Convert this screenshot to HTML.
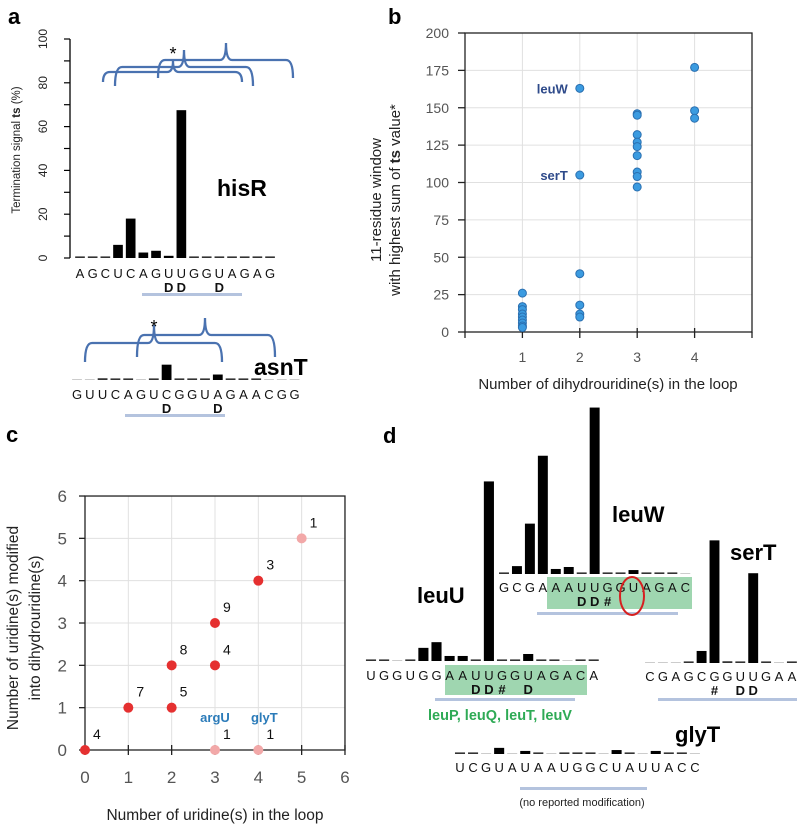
<!DOCTYPE html>
<html><head><meta charset="utf-8"><style>
html,body{margin:0;padding:0;background:#fff;}
svg{display:block;font-family:"Liberation Sans",Arial,sans-serif;}
</style></head><body>
<svg id="fig" width="800" height="825" viewBox="0 0 800 825">
<text x="8" y="24" font-size="22" font-weight="bold">a</text>
<text x="388" y="24" font-size="22" font-weight="bold">b</text>
<text x="6" y="442" font-size="22" font-weight="bold">c</text>
<text x="383" y="443" font-size="22" font-weight="bold">d</text>
</svg>
<script>
// ---------- data ----------
const hisRSeq = "AGCUCAGUUGGUAGAG".split('');
const hisRValues = [0.6,0.2,0.1,6,18,2.5,3.3,1,67.5,0.2,0.1,0.7,0.1,0.1,0.1,0.1];
const hisRMarks = ["","","","","","","","D","D","","","D","","","",""];
const aTicks = [0,20,40,60,80,100];
const asnSeq = "GUUCAGUCGGUAGAACGG".split('');
const asnValues = [0,0,0.8,0.3,0.2,0,0.2,7,0.3,0.3,0.2,2.5,0.3,0.2,0.2,0,0,0];
const asnMarks = ["","","","","","","","D","","","","D","","","","","",""];

const bCats = [1,2,3,4];
const bTicks = [0,25,50,75,100,125,150,175,200];
const bPoints1 = [26,17,15,12,10,8,6,4,3];
const bPoints2 = [163,105,39,18,12,10];
const bPoints3 = [146,145,132,127,124,118,107,104,97];
const bPoints4 = [177,148,143];

const cTicks = [0,1,2,3,4,5,6];
const cX = [0,1,2,2,3,3,4,5,3,4];
const cY = [0,1,2,1,3,2,4,5,0,0];
const cCounts = [4,7,8,5,9,4,3,1,1,1];
const cFaint = [false,false,false,false,false,false,false,true,true,true];

const leuUSeq = "UGGUGGAAUUGGUAGACA".split('');
const leuUValues = [0.5,0.5,0,0.5,6,8.6,2.3,2.3,0.5,82,0.5,0.5,3.2,0.5,0.5,0,0.5,0.5];
const leuUMarks = ["","","","","","","","","D","D","#","","D","","","","",""];
const leuWSeq = "GCGAAAUUGGUAGAC".split('');
const leuWValues = [0.5,3.6,23,54,2.3,3.2,0.5,76,0.5,0.5,1.8,0.3,0.3,0.3,0];
const leuWMarks = ["","","","","","","D","D","#","","","","","",""];
const serTSeq = "CGAGCGGUUGAA".split('');
const serTValues = [0,0,0,0.5,5.5,56,0.8,0.5,41,0.3,0,0.3];
const serTMarks = ["","","","","","#","","D","D","","",""];
const glyTSeq = "UCGUAUAAUGGCUAUUACC".split('');
const glyTValues = [0.5,0.5,0,2.8,0,1.4,0.5,0,0.5,0.5,0.5,0,1.8,0.5,0,1.4,0.5,0.5,0];

// ---------- helpers ----------
const svg = document.getElementById('fig');
const NS = 'http://www.w3.org/2000/svg';
function mk(tag, attrs, txt){const e=document.createElementNS(NS,tag);for(const k in attrs)e.setAttribute(k,attrs[k]);if(txt!==undefined)e.textContent=txt;svg.appendChild(e);return e;}
function brace(x1,x2,xm,yh,yb,ytop){
  return `M${x1},${yb} Q${x1},${yh} ${x1+7},${yh} L${xm-6},${yh} Q${xm},${yh} ${xm},${ytop} Q${xm},${yh} ${xm+6},${yh} L${x2-7},${yh} Q${x2},${yh} ${x2},${yb}`;
}
const blue='#4a72b0', und='#b4c3de';

// generic sequence track
function track(name, seq, vals, marks, x0, step, base, yLetters, scale){
  seq.forEach((ch,i)=>{
    const cx = x0 + step*i;
    const v = vals[i];
    const h = v*scale;
    if(v>0){
      const hh = Math.max(h,1.6);
      const r = mk('rect',{x:cx-step/2+1.5,y:base-hh,width:step-3,height:hh,fill:h<2?'#333':'#000'});
      
      
    } else {
      const r = mk('rect',{x:cx-step/2+1.5,y:base-1,width:step-3,height:1,fill:'#ccc'});
      
      
    }
    const t = mk('text',{x:cx,y:yLetters,'font-size':13,'text-anchor':'middle',fill:'#111'},ch);
    
    
    if(marks[i]){
      const m = mk('text',{x:cx,y:yLetters+14,'font-size':13,'font-weight':'bold','text-anchor':'middle',fill:'#111'},marks[i]);
      
      
    }
  });
}

// ---------- panel a ----------
const yA = v => 258 - v*2.19;
const xA = i => 83 + 12.67*i;
let ax = mk('line',{x1:70,y1:yA(0),x2:70,y2:yA(100),stroke:'#000','stroke-width':1.3});


for(let v=0;v<=100;v+=10){
  const tk = mk('line',{x1:64,y1:yA(v),x2:70,y2:yA(v),stroke:'#000','stroke-width':1.2});
  
  
}
aTicks.forEach(v=>{
  const t = mk('text',{x:0,y:0,'font-size':12,'text-anchor':'middle',fill:'#222',transform:`translate(47,${yA(v)}) rotate(-90)`},String(v));
  
  
});
let ayt = mk('text',{x:0,y:0,'font-size':11.5,'text-anchor':'middle',fill:'#222',transform:'translate(20,150) rotate(-90)'});
ayt.innerHTML='Termination signal <tspan font-weight="bold">ts</tspan> (%)';


track('hisR', hisRSeq, hisRValues, hisRMarks, 80, 12.67, 258, 278, 2.19);
let ul = mk('rect',{x:142,y:293,width:100,height:3,fill:und});


let hl = mk('text',{x:217,y:196,'font-size':23,'font-weight':'bold'},'hisR');


[[103,242,173,72,82,61],[115,253,184,67,86,50],[158,293,226,60,78,43]].forEach(b=>{
  const p = mk('path',{d:brace(...b),fill:'none',stroke:blue,'stroke-width':2.3});
  
  
});
let s1 = mk('text',{x:173,y:60,'font-size':18,'text-anchor':'middle'},'*');



track('asnT', asnSeq, asnValues, asnMarks, 77, 12.8, 380, 399, 2.19);
let ul2 = mk('rect',{x:125,y:414,width:100,height:3,fill:und});


let al = mk('text',{x:254,y:375,'font-size':23,'font-weight':'bold'},'asnT');


[[85,222,154,343,362,325],[137,275,205,335,357,318]].forEach(b=>{
  const p = mk('path',{d:brace(...b),fill:'none',stroke:blue,'stroke-width':2.3});
  
  
});
let s2 = mk('text',{x:154,y:333,'font-size':18,'text-anchor':'middle'},'*');



// ---------- panel b ----------
const xB = v => 465 + v*57.4;
const yB = v => 332 - v*1.495;
bTicks.forEach(v=>{
  const g = mk('line',{x1:xB(0),y1:yB(v),x2:xB(5),y2:yB(v),stroke:'#e0e0e0','stroke-width':1});
  
  
  const tk = mk('line',{x1:xB(0)-7,y1:yB(v),x2:xB(0),y2:yB(v),stroke:'#222','stroke-width':1.3});
  
  
  const t = mk('text',{x:xB(0)-16,y:yB(v)+5,'font-size':14,'text-anchor':'end',fill:'#555'},String(v));
  
  
});
bCats.forEach(c=>{
  const g = mk('line',{x1:xB(c),y1:yB(0),x2:xB(c),y2:yB(200),stroke:'#e0e0e0','stroke-width':1});
  
  
  const tk = mk('line',{x1:xB(c),y1:yB(0)-4,x2:xB(c),y2:yB(0)+6,stroke:'#222','stroke-width':1.3});
  
  
  const t = mk('text',{x:xB(c),y:362,'font-size':14,'text-anchor':'middle',fill:'#555'},String(c));
  
  
});
[0,5].forEach(c=>{
  const tk = mk('line',{x1:xB(c),y1:yB(0),x2:xB(c),y2:yB(0)+6,stroke:'#222','stroke-width':1.3});
  
  
});
let bf = mk('rect',{x:xB(0),y:yB(200),width:xB(5)-xB(0),height:yB(0)-yB(200),fill:'none',stroke:'#222','stroke-width':1.3});


let bxt = mk('text',{x:608,y:389,'font-size':15,'text-anchor':'middle',fill:'#222'},'Number of dihydrouridine(s) in the loop');


let byt1 = mk('text',{x:0,y:0,'font-size':15,'text-anchor':'middle',fill:'#222',transform:'translate(381,200) rotate(-90)'},'11-residue window');


let byt2 = mk('text',{x:0,y:0,'font-size':15,'text-anchor':'middle',fill:'#222',transform:'translate(400,200) rotate(-90)'});
byt2.innerHTML='with highest sum of <tspan font-weight="bold">ts</tspan> value*';


[[1,bPoints1],[2,bPoints2],[3,bPoints3],[4,bPoints4]].forEach(([c,arr])=>{
  arr.forEach(v=>{
    const p = mk('circle',{cx:xB(c),cy:yB(v),r:4,fill:'#3b9be0',stroke:'#2a6fb0','stroke-width':1});
    
    
  });
});
let lw = mk('text',{x:xB(2)-12,y:yB(bPoints2[0])+5,'font-size':13,'font-weight':'bold','text-anchor':'end',fill:'#2e4a8a'},'leuW');


let st = mk('text',{x:xB(2)-12,y:yB(bPoints2[1])+5,'font-size':13,'font-weight':'bold','text-anchor':'end',fill:'#2e4a8a'},'serT');



// ---------- panel c ----------
const xC = v => 85 + v*43.33;
const yC = v => 750 - v*42.33;
cTicks.forEach(v=>{
  if(v>0){
    const gy = mk('line',{x1:xC(0),y1:yC(v),x2:xC(6),y2:yC(v),stroke:'#e0e0e0','stroke-width':1});
    
    
    const gx = mk('line',{x1:xC(v),y1:yC(0),x2:xC(v),y2:yC(6),stroke:'#e0e0e0','stroke-width':1});
    
    
  }
  const ty = mk('line',{x1:xC(0)-6,y1:yC(v),x2:xC(0),y2:yC(v),stroke:'#222','stroke-width':1.3});
  
  
  const tx = mk('line',{x1:xC(v),y1:yC(0)-5,x2:xC(v),y2:yC(0)+5,stroke:'#222','stroke-width':1.3});
  
  
  const ly = mk('text',{x:xC(0)-18,y:yC(v)+6,'font-size':17,'text-anchor':'end',fill:'#555'},String(v));
  
  
  const lx = mk('text',{x:xC(v),y:783,'font-size':17,'text-anchor':'middle',fill:'#555'},String(v));
  
  
});
let cf = mk('rect',{x:xC(0),y:yC(6),width:xC(6)-xC(0),height:yC(0)-yC(6),fill:'none',stroke:'#222','stroke-width':1.3});


let cxt = mk('text',{x:215,y:820,'font-size':15.5,'text-anchor':'middle',fill:'#222'},'Number of uridine(s) in the loop');


let cyt1 = mk('text',{x:0,y:0,'font-size':15.5,'text-anchor':'middle',fill:'#222',transform:'translate(18,628) rotate(-90)'},'Number of uridine(s) modified');


let cyt2 = mk('text',{x:0,y:0,'font-size':15.5,'text-anchor':'middle',fill:'#222',transform:'translate(40,628) rotate(-90)'},'into dihydrouridine(s)');


cX.forEach((x,i)=>{
  const p = mk('circle',{cx:xC(x),cy:yC(cY[i]),r:5,fill:cFaint[i]?'#f2a8a8':'#e53030'});
  
  
  const t = mk('text',{x:xC(x)+8,y:yC(cY[i])-11,'font-size':14,fill:'#111'},String(cCounts[i]));
  
  
});
let argU = mk('text',{x:xC(3),y:722,'font-size':13,'font-weight':'bold','text-anchor':'middle',fill:'#2b7bb9'},'argU');


let glyTc = mk('text',{x:xC(4)+6,y:722,'font-size':13,'font-weight':'bold','text-anchor':'middle',fill:'#2b7bb9'},'glyT');



// ---------- panel d ----------
// highlights first (behind)
let g1 = mk('rect',{x:445,y:665,width:142,height:30,fill:'#9fd6b0'});


let g2 = mk('rect',{x:547,y:577,width:145,height:32,fill:'#9fd6b0'});


track('leuW', leuWSeq, leuWValues, leuWMarks, 504, 12.95, 574, 592, 2.19);
track('leuU', leuUSeq, leuUValues, leuUMarks, 371, 13.1, 661, 680, 2.19);
track('serT', serTSeq, serTValues, serTMarks, 650, 12.9, 663, 681, 2.19);
track('glyT', glyTSeq, glyTValues, new Array(19).fill(''), 460, 13.05, 754, 772, 2.19);
[[435,698,140,'leuU-loop-underline'],[537,612,141,'leuW-loop-underline'],[658,698,139,'serT-loop-underline'],[520,787,127,'glyT-loop-underline']].forEach(u=>{
  const r = mk('rect',{x:u[0],y:u[1],width:u[2],height:3,fill:und});
  
  
});
let ell = mk('ellipse',{cx:632,cy:596,rx:12,ry:19,fill:'none',stroke:'#d62020','stroke-width':2});


[['leuW',612,522],['leuU',417,603],['serT',730,560],['glyT',675,742]].forEach(l=>{
  const t = mk('text',{x:l[1],y:l[2],'font-size':22,'font-weight':'bold'},l[0]);
  
  
});
let iso = mk('text',{x:500,y:720,'font-size':14.5,'font-weight':'bold','text-anchor':'middle',fill:'#2eaa55'},'leuP, leuQ, leuT, leuV');


let nr = mk('text',{x:582,y:806,'font-size':11,'text-anchor':'middle',fill:'#222'},'(no reported modification)');


</script>
</body></html>
